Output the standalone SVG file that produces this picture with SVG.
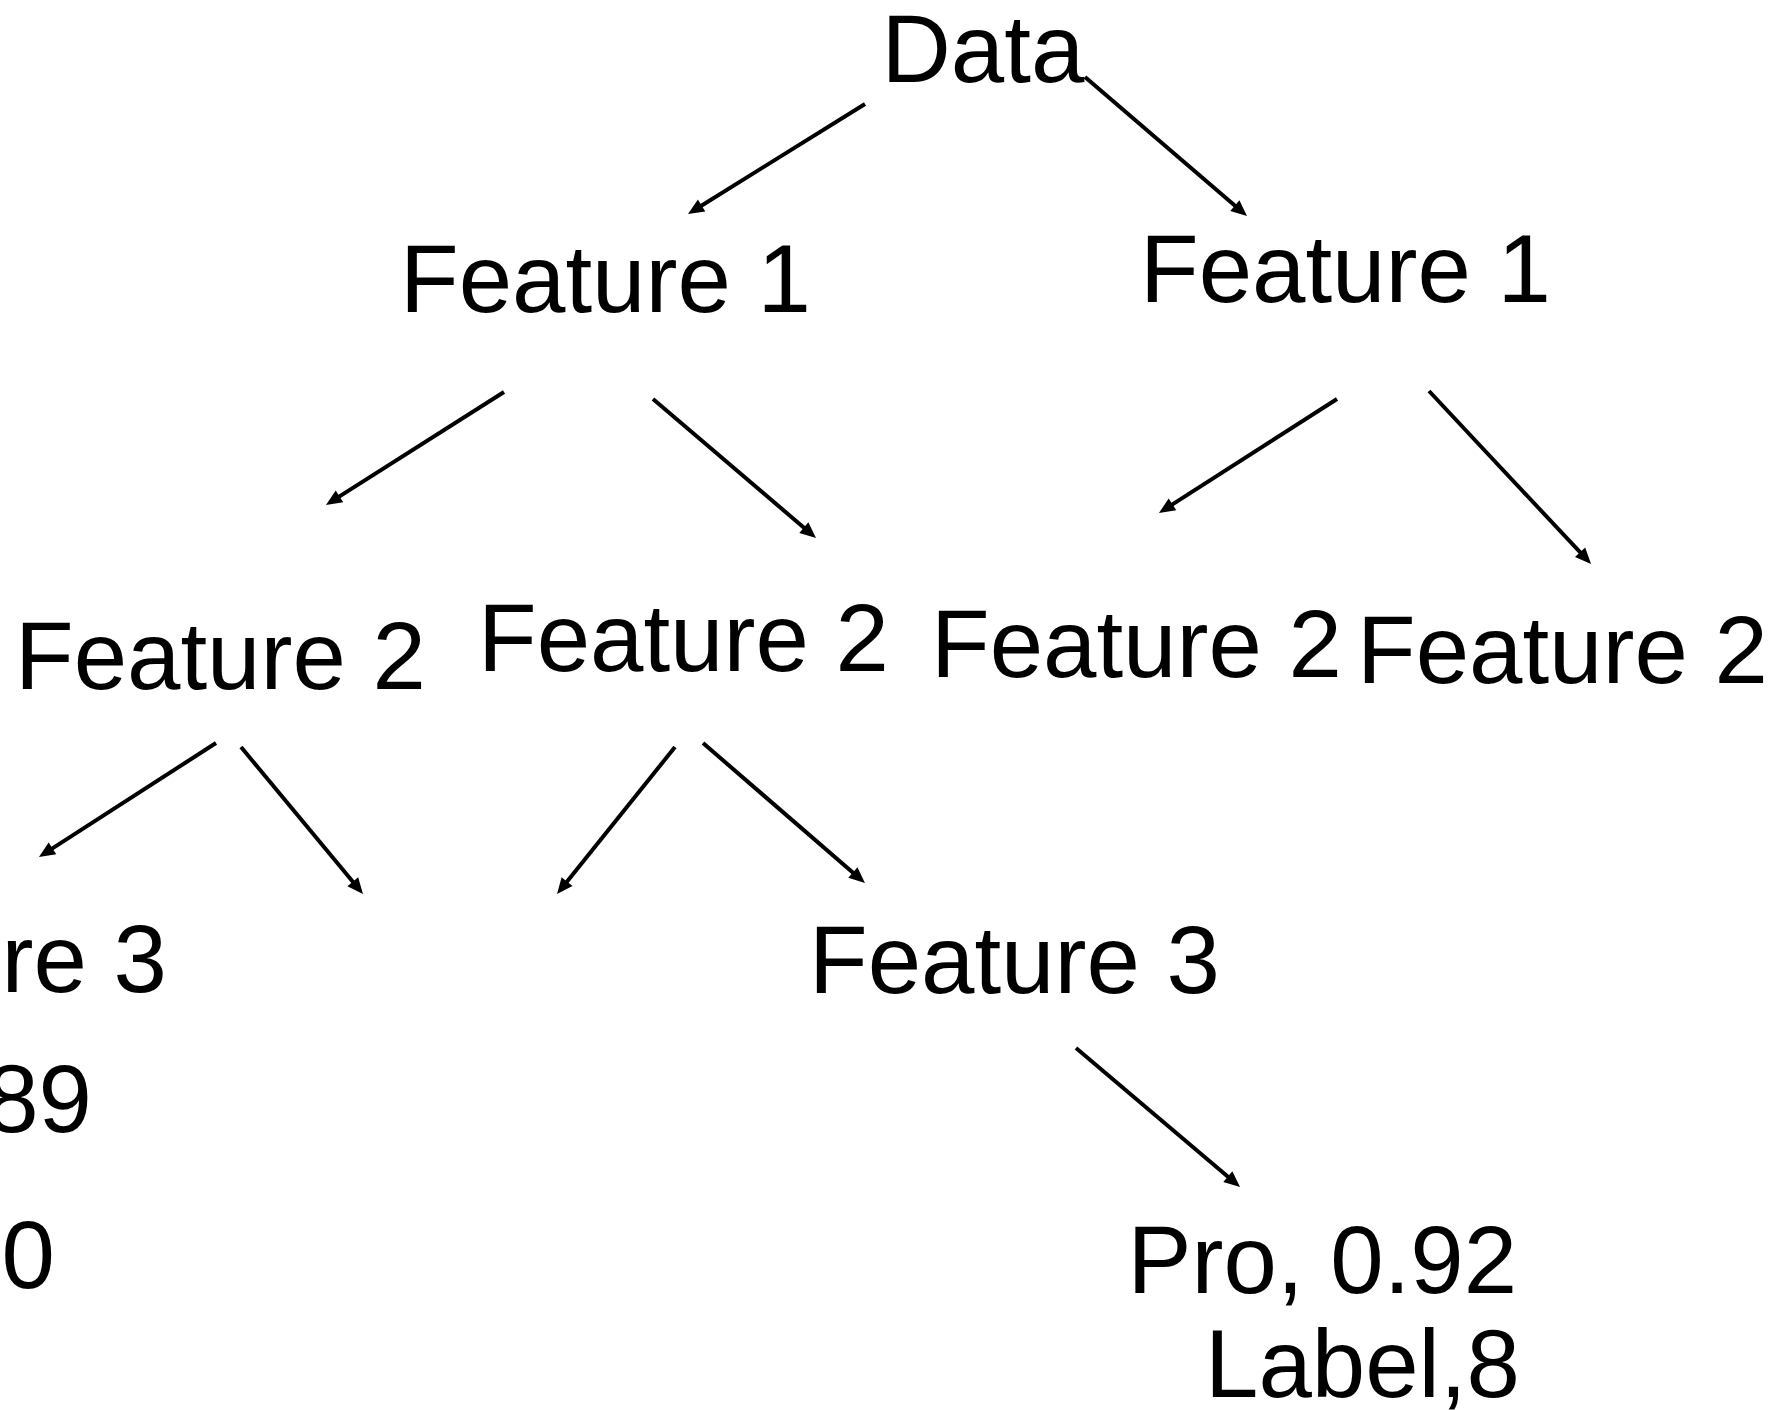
<svg xmlns="http://www.w3.org/2000/svg" width="1769" height="1410" viewBox="0 0 1769 1410">
  <style>
    .lbl { font-family: "Liberation Sans", Arial, sans-serif; font-size: 96px; fill: #000; }
    .end { text-anchor: end; }
    .edge { stroke: #000; stroke-width: 4; fill: none; marker-end: url(#head); }
  </style>
  <defs>
    <marker id="head" markerUnits="userSpaceOnUse" markerWidth="16" markerHeight="14" refX="6" refY="7" orient="auto" overflow="visible">
      <path d="M0,0 L16,7 L0,14 z" fill="#000"/>
    </marker>
  </defs>
  <rect width="1769" height="1410" fill="#fff"/>

  <!-- tree connectors -->
  <g id="connectors">
    <line class="edge" x1="865" y1="104" x2="696.5" y2="208.7"/>
    <line class="edge" x1="1085" y1="77" x2="1239.4" y2="209.5"/>
    <line class="edge" x1="504" y1="392" x2="334.4" y2="499.6"/>
    <line class="edge" x1="653" y1="399" x2="808.4" y2="531.5"/>
    <line class="edge" x1="1337" y1="399" x2="1167.4" y2="507.6"/>
    <line class="edge" x1="1429" y1="391" x2="1584.2" y2="556.7"/>
    <line class="edge" x1="216" y1="743" x2="47.4" y2="851.6"/>
    <line class="edge" x1="241" y1="747" x2="356.6" y2="886.3"/>
    <line class="edge" x1="675" y1="747" x2="563.3" y2="886.2"/>
    <line class="edge" x1="703" y1="743" x2="857.4" y2="876.5"/>
    <line class="edge" x1="1076" y1="1048" x2="1232.4" y2="1180.5"/>
  </g>

  <!-- nodes -->
  <g id="node-data"><text class="lbl" x="881.5" y="82">Data</text></g>
  <g id="node-f1-left"><text class="lbl" x="400" y="312">Feature 1</text></g>
  <g id="node-f1-right"><text class="lbl" x="1140" y="302">Feature 1</text></g>
  <g id="node-f2-a"><text class="lbl" x="15" y="689">Feature 2</text></g>
  <g id="node-f2-b"><text class="lbl" x="478" y="671">Feature 2</text></g>
  <g id="node-f2-c"><text class="lbl" x="931" y="677">Feature 2</text></g>
  <g id="node-f2-d"><text class="lbl" x="1357" y="683">Feature 2</text></g>
  <g id="node-f3-left">
    <text class="lbl end" x="167" y="992">Feature 3</text>
    <text class="lbl end" x="92" y="1132">89</text>
    <text class="lbl end" x="55" y="1288">0</text>
  </g>
  <g id="node-f3-right"><text class="lbl" x="809" y="993">Feature 3</text></g>
  <g id="node-leaf">
    <text class="lbl" x="1127.5" y="1293">Pro, 0.92</text>
    <text class="lbl" x="1205" y="1397">Label,8</text>
  </g>
</svg>
